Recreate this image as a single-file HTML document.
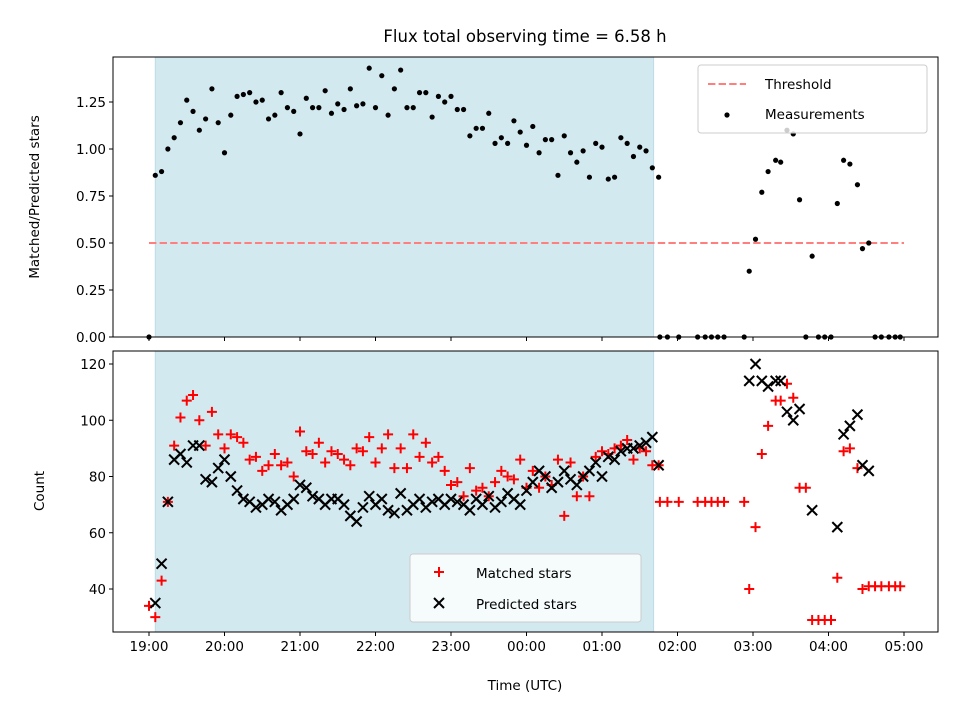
<!DOCTYPE html>
<html><head><meta charset="utf-8"><style>
body{margin:0;background:#fff;font-family:"Liberation Sans","DejaVu Sans",sans-serif}
svg text{font-family:"DejaVu Sans","Liberation Sans",sans-serif}
</style></head><body>
<svg id="chart" width="960" height="720" xmlns="http://www.w3.org/2000/svg"></svg>
<script>
// minutes since 19:00 UTC
const shadeStart = 5, shadeEnd = 401;
const ratioTimes = [0,5,10,15,20,25,30,35,40,45,50,55,60,65,70,75,80,85,90,95,100,105,110,115,120,125,130,135,140,145,150,155,160,165,170,175,180,185,190,195,200,205,210,215,220,225,230,235,240,245,250,255,260,265,270,275,280,285,290,295,300,305,310,315,320,325,330,335,340,345,350,355,360,365,370,375,380,385,390,395,400,405,
406,412,421,436,442,447,452,457,473,477,482,487,492,498,502,507,512,517,522,527,532,537,542,547,552,557,563,567,572,577,582,588,593,597];
const ratioValues = [0,0.86,0.88,1.00,1.06,1.14,1.26,1.20,1.10,1.16,1.32,1.14,0.98,1.18,1.28,1.29,1.30,1.25,1.26,1.16,1.18,1.30,1.22,1.20,1.08,1.27,1.22,1.22,1.31,1.19,1.24,1.21,1.32,1.23,1.24,1.43,1.22,1.39,1.18,1.32,1.42,1.22,1.22,1.30,1.30,1.17,1.28,1.25,1.28,1.21,1.21,1.07,1.11,1.11,1.19,1.03,1.06,1.03,1.15,1.09,1.02,1.12,0.98,1.05,1.05,0.86,1.07,0.98,0.93,0.99,0.85,1.03,1.01,0.84,0.85,1.06,1.03,0.96,1.01,0.99,0.90,0.85,
0,0,0,0,0,0,0,0,0,0.35,0.52,0.77,0.88,0.94,0.93,1.10,1.08,0.73,0,0.43,0,0,0,0.71,0.94,0.92,0.81,0.47,0.50,0,0,0,0,0];
const matchedTimes = [0,5,10,15,20,25,30,35,40,45,50,55,60,65,70,75,80,85,90,95,100,105,110,115,120,125,130,135,140,145,150,155,160,165,170,175,180,185,190,195,200,205,210,215,220,225,230,235,240,245,250,255,260,265,270,275,280,285,290,295,300,305,310,315,320,325,330,335,340,345,350,355,360,365,370,375,380,385,390,395,400,405,
406,412,421,436,442,447,452,457,473,477,482,487,492,498,502,507,512,517,522,527,532,537,542,547,552,557,563,567,572,577,582,588,593,597];
const matchedValues = [34,30,43,71,91,101,107,109,100,91,103,95,90,95,94,92,86,87,82,84,88,84,85,80,96,89,88,92,85,89,88,86,84,90,89,94,85,90,95,83,90,83,95,87,92,85,87,82,77,78,73,83,75,76,73,78,82,80,79,86,76,82,76,80,77,86,66,85,73,80,73,87,89,88,90,91,93,86,90,89,84,84,
71,71,71,71,71,71,71,71,71,40,62,88,98,107,107,113,108,76,76,29,29,29,29,44,89,90,83,40,41,41,41,41,41,41];
const predTimes = [5,10,15,20,25,30,35,40,45,50,55,60,65,70,75,80,85,90,95,100,105,110,115,120,125,130,135,140,145,150,155,160,165,170,175,180,185,190,195,200,205,210,215,220,225,230,235,240,245,250,255,260,265,270,275,280,285,290,295,300,305,310,315,320,325,330,335,340,345,350,355,360,365,370,375,380,385,390,395,400,405,
477,482,487,492,498,502,507,512,517,527,547,552,557,563,567,572];
const predValues = [35,49,71,86,88,85,91,91,79,78,83,86,80,75,72,71,69,70,72,71,68,70,72,77,76,73,72,70,72,72,70,66,64,69,73,70,72,68,67,74,68,70,72,69,71,72,70,72,71,70,68,72,70,73,69,71,74,72,70,75,78,82,80,76,78,82,79,77,80,82,85,80,87,86,89,90,90,91,92,94,84,
114,120,114,112,114,114,103,100,104,68,62,95,98,102,84,82];
const tickMinutes = [0,60,120,180,240,300,360,420,480,540,600];
const tickLabels = ["19:00","20:00","21:00","22:00","23:00","00:00","01:00","02:00","03:00","04:00","05:00"];
const ratioTicks = [0,0.25,0.5,0.75,1.0,1.25];
const countTicks = [40,60,80,100,120];
const threshold = 0.5;

const NS="http://www.w3.org/2000/svg", svg=document.getElementById('chart');
function mk(tag,attrs,parent){const e=document.createElementNS(NS,tag);for(const k in attrs)e.setAttribute(k,attrs[k]);(parent||svg).appendChild(e);return e;}
const L=113,R=938;
const X=m=>149+m*(755/600);
const T1=57,B1=337, Y1=v=>337-v*188;
const T2=351,B2=632, Y2=v=>364+(120-v)*2.8125;

// shading
for(const [t,b,n] of [[T1,B1,'shaded-region-top'],[T2,B2,'shaded-region-bottom']]){
  const r=mk('rect',{x:X(shadeStart),y:t,width:X(shadeEnd)-X(shadeStart),height:b-t,fill:'#d3e9f0',stroke:'#bcdce7','stroke-width':1});
  
  
}
// threshold
const th=mk('line',{x1:X(0),x2:X(600),y1:Y1(threshold),y2:Y1(threshold),stroke:'#ff7f7f','stroke-width':2,'stroke-dasharray':'7.4,3.2'});


// measurements
ratioTimes.forEach((t,i)=>{
  const c=mk('circle',{cx:X(t),cy:Y1(ratioValues[i]),r:2.6,fill:'#000'});
  
  
});
// matched
matchedTimes.forEach((t,i)=>{
  const x=X(t),y=Y2(matchedValues[i]);
  const p=mk('path',{d:`M${x-5},${y}H${x+5}M${x},${y-5}V${y+5}`,stroke:'#ff0000','stroke-width':2});
  
  
});
// predicted
predTimes.forEach((t,i)=>{
  const x=X(t),y=Y2(predValues[i]);
  const p=mk('path',{d:`M${x-5},${y-5}L${x+5},${y+5}M${x-5},${y+5}L${x+5},${y-5}`,stroke:'#000','stroke-width':2});
  
  
});
// frames
for(const [t,b,n] of [[T1,B1,'top-axes-frame'],[T2,B2,'bottom-axes-frame']]){
  const r=mk('rect',{x:L,y:t,width:R-L,height:b-t,fill:'none',stroke:'#000','stroke-width':1});
  
  
}
// x ticks
tickMinutes.forEach((m,i)=>{
  const x=X(m);
  mk('line',{x1:x,x2:x,y1:B1,y2:B1+4,stroke:'#000'});
  mk('line',{x1:x,x2:x,y1:B2,y2:B2+4,stroke:'#000'});
  const tx=mk('text',{x:x,y:B2+19,'font-size':13.5,'text-anchor':'middle'});
  tx.textContent=tickLabels[i];
  
  
});
ratioTicks.forEach(v=>{
  const y=Y1(v);
  mk('line',{x1:L-4,x2:L,y1:y,y2:y,stroke:'#000'});
  const tx=mk('text',{x:L-7,y:y+5,'font-size':13.5,'text-anchor':'end'});
  tx.textContent=v.toFixed(2);
  
  
});
countTicks.forEach(v=>{
  const y=Y2(v);
  mk('line',{x1:L-4,x2:L,y1:y,y2:y,stroke:'#000'});
  const tx=mk('text',{x:L-7,y:y+5,'font-size':13.5,'text-anchor':'end'});
  tx.textContent=v;
  
  
});
</script>
<svg width="960" height="720" style="position:absolute;left:0;top:0" xmlns="http://www.w3.org/2000/svg">
<text x="525" y="42" font-size="16.5" text-anchor="middle" font-family="DejaVu Sans, Liberation Sans, sans-serif">Flux total observing time = 6.58 h</text>
<text transform="translate(39,197) rotate(-90)" font-size="13.5" text-anchor="middle" font-family="DejaVu Sans, Liberation Sans, sans-serif">Matched/Predicted stars</text>
<text transform="translate(44,491) rotate(-90)" font-size="13.5" text-anchor="middle" font-family="DejaVu Sans, Liberation Sans, sans-serif">Count</text>
<text x="525" y="690" font-size="13.5" text-anchor="middle" font-family="DejaVu Sans, Liberation Sans, sans-serif">Time (UTC)</text>
<g font-family="DejaVu Sans, Liberation Sans, sans-serif" font-size="13.5">
<rect x="698" y="65" width="229" height="68" rx="3" fill="#fff" fill-opacity="0.8" stroke="#ccc"/>
<line x1="708" x2="746" y1="84" y2="84" stroke="#ff7f7f" stroke-width="2" stroke-dasharray="7.4,3.2"/>
<text x="765" y="89">Threshold</text>
<circle cx="727" cy="115" r="2.6" fill="#000"/>
<text x="765" y="119">Measurements</text>
</g>
<g font-family="DejaVu Sans, Liberation Sans, sans-serif" font-size="13.5">
<rect x="410" y="554" width="231" height="68" rx="3" fill="#fff" fill-opacity="0.8" stroke="#ccc"/>
<path d="M434,572H444M439,567V577" stroke="#ff0000" stroke-width="2"/>
<text x="476" y="578">Matched stars</text>
<path d="M434,598L444,608M434,608L444,598" stroke="#000" stroke-width="2"/>
<text x="476" y="609">Predicted stars</text>
</g>
</svg>
</body></html>
